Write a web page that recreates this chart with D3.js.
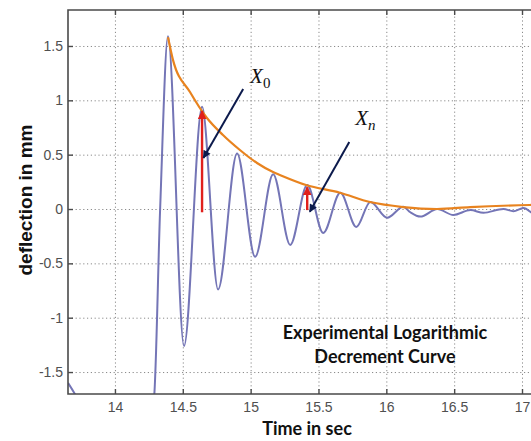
<!DOCTYPE html>
<html><head><meta charset="utf-8">
<script src="https://cdn.jsdelivr.net/npm/d3@7"></script>
<style>body{margin:0;background:#fff}</style></head>
<body><svg id="c" width="531" height="441"></svg>
<script>
// ---- data ----
const xTicks = [14, 14.5, 15, 15.5, 16, 16.5, 17];
const yTicks = [-1.5, -1, -0.5, 0, 0.5, 1, 1.5];
// measured deflection signal (time s, deflection mm)
const sigT = [13.654, 13.713, 13.95, 14.20, 14.287, 14.333, 14.391, 14.509, 14.642, 14.760, 14.900, 15.033, 15.166, 15.292, 15.417, 15.535, 15.661, 15.779, 15.882, 16.007, 16.125, 16.177, 16.251, 16.376, 16.494, 16.620, 16.716, 16.863, 16.937, 17.011, 17.100, 17.200];
const sigV = [-1.60, -1.72, -2.40, -2.10, -1.75, 0.00, 1.59, -1.26, 0.94, -0.74, 0.51, -0.44, 0.32, -0.33, 0.22, -0.22, 0.15, -0.165, 0.065, -0.08, 0.02, -0.03, -0.07, 0.00, -0.055, -0.01, -0.035, 0.00, -0.02, 0.01, -0.05, 0.00];
// decay envelope
const envT = [14.391, 14.428, 14.553, 14.678, 14.796, 14.921, 15.047, 15.165, 15.216, 15.408, 15.658, 15.880, 16.123, 16.373, 16.617, 17.059, 17.200];
const envV = [1.58, 1.37, 1.076, 0.837, 0.681, 0.543, 0.423, 0.340, 0.313, 0.221, 0.150, 0.064, 0.018, 0.000, 0.018, 0.037, 0.040];
// annotations
const labels = [{name: "X", sub: "0", subItalic: false, t: 14.996, v: 1.16}, {name: "X", sub: "n", subItalic: true, t: 15.771, v: 0.77}];
const pointers = [{t1: 14.945, v1: 1.104, t2: 14.652, v2: 0.47}, {t1: 15.727, v1: 0.616, t2: 15.436, v2: -0.025}];
const amplitudes = [{t: 14.642, v1: -0.03, v2: 0.90}, {t: 15.417, v1: -0.01, v2: 0.20}];
const noteLines = ["Experimental Logarithmic", "Decrement Curve"];
const noteT = 15.99, noteV1 = -1.196, noteV2 = -1.417;

// ---- layout ----
const svg = d3.select("#c");
const L = 68, T = 10, R = 560, B = 394;
const x = d3.scaleLinear().domain([13.654, 17.28]).range([L, R]);
const y = d3.scaleLinear().domain([-1.702, 1.831]).range([B, T]);

const defs = svg.append("defs");
defs.append("clipPath").attr("id", "clip").append("rect")
  .attr("x", L).attr("y", T).attr("width", R - L).attr("height", B - T);
function marker(id, color, w, h) {
  defs.append("marker").attr("id", id).attr("viewBox", "0 0 10 10")
    .attr("refX", 9).attr("refY", 5).attr("markerWidth", w).attr("markerHeight", h)
    .attr("markerUnits", "userSpaceOnUse").attr("orient", "auto")
    .append("path").attr("d", "M0,0L10,5L0,10Z").attr("fill", color);
}
marker("navy", "#0c1a4c", 10, 8);
marker("red", "#e0201c", 9, 9);

// grid
const gridColor = "#8a8a8a";
svg.append("g").attr("transform", `translate(0,${B})`)
  .call(d3.axisBottom(x).tickValues(xTicks).tickSize(-(B - T)).tickFormat(""))
  .call(g => g.select(".domain").remove())
  .call(g => g.selectAll("line").attr("stroke", gridColor).attr("stroke-dasharray", "1.2,2.6"));
svg.append("g").attr("transform", `translate(${L},0)`)
  .call(d3.axisLeft(y).tickValues(yTicks).tickSize(-(R - L)).tickFormat(""))
  .call(g => g.select(".domain").remove())
  .call(g => g.selectAll("line").attr("stroke", gridColor).attr("stroke-dasharray", "1.2,2.6"));

// data lines
const plot = svg.append("g").attr("clip-path", "url(#clip)");
const sig = sigT.map((t, i) => [t, sigV[i]]);
const env = envT.map((t, i) => [t, envV[i]]);
const line = d3.line().x(d => x(d[0])).y(d => y(d[1])).curve(d3.curveMonotoneX);
plot.append("path").datum(sig).attr("d", line).attr("fill", "none")
  .attr("stroke", "#7475b6").attr("stroke-width", 2);
plot.append("path").datum(env).attr("d", line).attr("fill", "none")
  .attr("stroke", "#e8831f").attr("stroke-width", 2.2);

// frame + ticks
const fr = "#4a4a4a";
svg.append("path").attr("d", `M${R},${T}H${L}V${B}H${R}`).attr("fill", "none")
  .attr("stroke", fr).attr("stroke-width", 1.6);
const fnt = "'Liberation Sans', Arial, sans-serif";
const fmt = d => String(d);
svg.append("g").attr("transform", `translate(0,${B})`)
  .call(d3.axisBottom(x).tickValues(xTicks).tickSizeInner(-5).tickSizeOuter(0).tickPadding(8).tickFormat(fmt))
  .call(g => g.select(".domain").remove())
  .call(g => g.selectAll("line").attr("stroke", fr).attr("stroke-width", 1.4))
  .call(g => g.selectAll("text").attr("fill", "#505050").style("font", `14px ${fnt}`));
svg.append("g").attr("transform", `translate(0,${T})`)
  .call(d3.axisTop(x).tickValues(xTicks).tickSizeInner(-5).tickSizeOuter(0).tickFormat(""))
  .call(g => g.select(".domain").remove())
  .call(g => g.selectAll("line").attr("stroke", fr).attr("stroke-width", 1.4));
svg.append("g").attr("transform", `translate(${L},0)`)
  .call(d3.axisLeft(y).tickValues(yTicks).tickSizeInner(-5).tickSizeOuter(0).tickPadding(5).tickFormat(fmt))
  .call(g => g.select(".domain").remove())
  .call(g => g.selectAll("line").attr("stroke", fr).attr("stroke-width", 1.4))
  .call(g => g.selectAll("text").attr("fill", "#505050").style("font", `14px ${fnt}`));

// axis titles
svg.append("text").attr("transform", `translate(32,${(T + B) / 2 - 2}) rotate(-90)`)
  .attr("text-anchor", "middle").style("font", `bold 19px ${fnt}`).attr("fill", "#111")
  .text("deflection in mm");
svg.append("text").attr("x", 307).attr("y", 435).attr("text-anchor", "middle")
  .style("font", "bold 18px Lato, 'Open Sans', sans-serif").attr("fill", "#111").text("Time in sec");

// amplitude arrows (red)
amplitudes.forEach(a => {
  svg.append("line").attr("x1", x(a.t)).attr("x2", x(a.t)).attr("y1", y(a.v1)).attr("y2", y(a.v2))
    .attr("stroke", "#e0201c").attr("stroke-width", 2.4).attr("marker-end", "url(#red)");
});
// pointer arrows (navy)
pointers.forEach(p => {
  svg.append("line").attr("x1", x(p.t1)).attr("y1", y(p.v1)).attr("x2", x(p.t2)).attr("y2", y(p.v2))
    .attr("stroke", "#0c1a4c").attr("stroke-width", 2).attr("marker-end", "url(#navy)");
});
// labels X0 / Xn
labels.forEach(l => {
  const t = svg.append("text").attr("x", x(l.t)).attr("y", y(l.v))
    .style("font", "italic 21px 'Liberation Serif', 'DejaVu Serif', serif").attr("fill", "#111");
  t.append("tspan").text(l.name);
  t.append("tspan").attr("dy", 5).style("font-size", "15px")
    .style("font-style", l.subItalic ? "italic" : "normal").text(l.sub);
});
// note
[noteV1, noteV2].forEach((v, i) => {
  svg.append("text").attr("x", x(noteT)).attr("y", y(v)).attr("text-anchor", "middle")
    .style("font", "bold 18px Lato, 'Open Sans', sans-serif").attr("fill", "#111").text(noteLines[i]);
});
</script></body></html>
